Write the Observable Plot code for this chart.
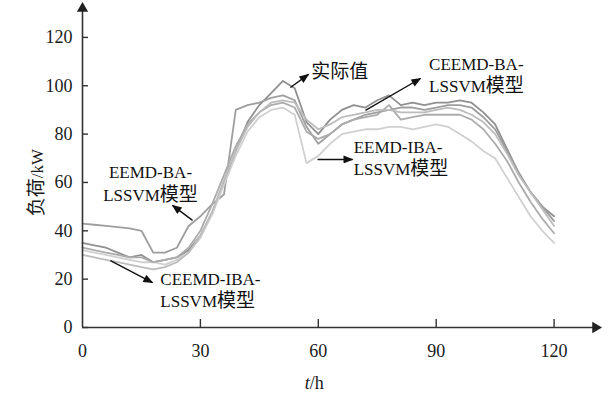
<!DOCTYPE html>
<html><head><meta charset="utf-8">
<script src="https://cdn.jsdelivr.net/npm/d3@7"></script>
<script src="https://cdn.jsdelivr.net/npm/@observablehq/plot@0.6"></script>
<style>body{margin:0;background:#fff}</style>
</head><body><div id="chart"></div>
<script>
// time axis (hours)
const hours = [0,3,6,9,12,15,18,21,24,27,30,33,36,39,42,45,48,51,54,57,60,63,66,69,72,75,78,81,84,87,90,93,96,99,102,105,108,111,114,117,120];
// series values (kW)
const actual   = [35,34,33,31,29,30,27,28,29,32,38,47,60,73,85,92,97,102,99,85,80,86,90,92,91,94,96,92,93,92,93,93,94,93,89,84,74,64,56,50,46];
const eemdBA   = [43,42.5,42,41.5,41,40,31,31,33,42,46,51,55,90,92,93,95,96,94,83,76,80,84,86,88,89,90,91,91,90,91,92,92,91,87,82,73,64,56,50,44];
const eemdIBA  = [32,31,30,29,28,27,27,26,28,31,37,47,59,71,81,87,90,91,88,68,71,76,80,81,82,82,83,83,82,83,84,83,80,77,73,70,62,54,46,40,35];
const ceemdBA  = [33,32,31,30,29,29,27,28,29,33,40,51,63,75,84,89,92,93,91,81,78,80,84,86,87,88,92,86,87,88,88,88,88,86,82,76,69,60,52,45,39];
const ceemdIBA = [30,29,28,27,26,25,24,25,27,31,38,48,61,73,83,89,93,94,93,86,82,84,87,88,89,90,90,89,89,89,90,91,90,88,85,80,72,63,56,49,42];

const seriesNames  = ["实际值","EEMD-BA-LSSVM","EEMD-IBA-LSSVM","CEEMD-BA-LSSVM","CEEMD-IBA-LSSVM"];
const seriesValues = [actual, eemdBA, eemdIBA, ceemdBA, ceemdIBA];
const seriesColors = ["#909090","#9e9e9e","#d0d0d0","#acacac","#bcbcbc"];

const xTicks = [0,30,60,90,120];
const yTicks = [0,20,40,60,80,100,120];
const xMax = 131.3, yMax = 133.2;

// annotation labels (data coords) and arrows
const labelText  = ["实际值","CEEMD-BA-\nLSSVM模型","EEMD-IBA-\nLSSVM模型","EEMD-BA-\nLSSVM模型","CEEMD-IBA-\nLSSVM模型"];
const labelX     = [58.2, 88.2, 69.0, 17.3, 19.8];
const labelY     = [106.3, 104.8, 70.4, 60.0, 16.1];
const labelAlign = ["start","start","start","middle","start"];
const arrowFrom  = [[52.9,99.3],[72.0,89.8],[59.8,69.5],[28.0,44.3],[7.1,27.7]];
const arrowTo    = [[57.5,104.7],[86.0,103.0],[68.7,69.5],[22.9,50.5],[17.8,18.6]];

const lineMarks = seriesValues.map((vals,i) =>
  Plot.line(hours.map((t,j)=>({t, v: vals[j]})), {x:"t", y:"v", stroke: seriesColors[i], strokeWidth:1.8, strokeLinejoin:"round"})
);
const labels = labelText.map((s,i)=>({s, x:labelX[i], y:labelY[i], a:labelAlign[i]}));
const arrows = arrowFrom.map((f,i)=>({x1:f[0], y1:f[1], x2:arrowTo[i][0], y2:arrowTo[i][1]}));

const svg = Plot.plot({
  width: 609, height: 396,
  marginLeft: 82, marginRight: 11, marginTop: 5, marginBottom: 69,
  x: {domain: [0, xMax]},
  y: {domain: [0, yMax]},
  style: {fontFamily: "'Liberation Serif', 'Noto Sans CJK SC', serif", fontSize: "17px", color: "#1a1a1a", background: "#fff"},
  marks: [
    ...lineMarks,
    Plot.ruleX([0], {stroke:"#333", strokeWidth:1.6}),
    Plot.ruleY([0], {stroke:"#333", strokeWidth:1.6}),
    Plot.tickY(yTicks, {y: d=>d, insetRight: 510, stroke:"#333", strokeWidth:1.4}),
    Plot.tickX(xTicks.filter(d=>d>0), {x: d=>d, insetTop: 314, stroke:"#333", strokeWidth:1.4}),
    Plot.dot([{x:0, y:yMax}], {x:"x", y:"y", symbol:"triangle", r:4.2, fill:"#222", stroke:null, dy:3}),
    Plot.dot([{x:xMax, y:0}], {x:"x", y:"y", symbol:"triangle", r:4.2, fill:"#222", stroke:null, rotate:90, dx:-3}),
    Plot.axisY({ticks: yTicks, tickSize: 0, tickPadding: 10, label: null, fontSize: 18}),
    Plot.axisX({ticks: xTicks, tickSize: 0, tickPadding: 17, label: null, fontSize: 18}),
    Plot.text(["负荷/kW"], {frameAnchor: "left", textAnchor: "middle", lineAnchor: "middle", rotate: -90, dx: -45, dy: 16, fontSize: 17}),
    Plot.text(["t/h"], {x: [59], frameAnchor: "bottom", lineAnchor: "middle", dy: 56, fontSize: 18}),
    Plot.link(arrows, {x1:"x1", y1:"y1", x2:"x2", y2:"y2", stroke:"#111", strokeWidth:1.4}),
    Plot.text(labels.filter(d=>d.a==="start"), {x:"x", y:"y", text:"s", textAnchor:"start", lineHeight:1.3, fill:"#111"}),
    Plot.text(labels.filter(d=>d.a==="middle"), {x:"x", y:"y", text:"s", textAnchor:"middle", lineHeight:1.3, fill:"#111"})
  ]
});
document.getElementById("chart").appendChild(svg);

// arrowheads
const root = d3.select(svg);
const defs = root.append("defs");
defs.append("marker").attr("id","ah").attr("viewBox","0 0 10 8").attr("refX",9).attr("refY",4)
  .attr("markerUnits","userSpaceOnUse").attr("markerWidth",11).attr("markerHeight",8).attr("orient","auto")
  .append("path").attr("d","M0,0L10,4L0,8Z").attr("fill","#111");
root.selectAll('g[aria-label="link"] path').attr("marker-end","url(#ah)");

// italic t in axis label
root.selectAll("text").each(function(){
  if (this.textContent === "t/h") {
    const el = d3.select(this); el.text("");
    el.append("tspan").attr("font-style","italic").text("t");
    el.append("tspan").text("/h");
  }
});
// larger CJK glyphs
const walker = document.createTreeWalker(svg, NodeFilter.SHOW_TEXT);
const nodes = []; while (walker.nextNode()) nodes.push(walker.currentNode);
const cjk = /[\u4e00-\u9fff]/;
for (const n of nodes) {
  if (n.parentNode.nodeName === "style" || !cjk.test(n.nodeValue)) continue;
  const parts = n.nodeValue.match(/[\u4e00-\u9fff]+|[^\u4e00-\u9fff]+/g);
  const frag = document.createDocumentFragment();
  for (const p of parts) {
    if (cjk.test(p)) {
      const t = document.createElementNS("http://www.w3.org/2000/svg","tspan");
      t.setAttribute("font-size","19");
      t.setAttribute("font-family","'Noto Sans CJK SC'");
      t.textContent = p; frag.appendChild(t);
    } else frag.appendChild(document.createTextNode(p));
  }
  n.parentNode.replaceChild(frag, n);
}
</script>
</body></html>
